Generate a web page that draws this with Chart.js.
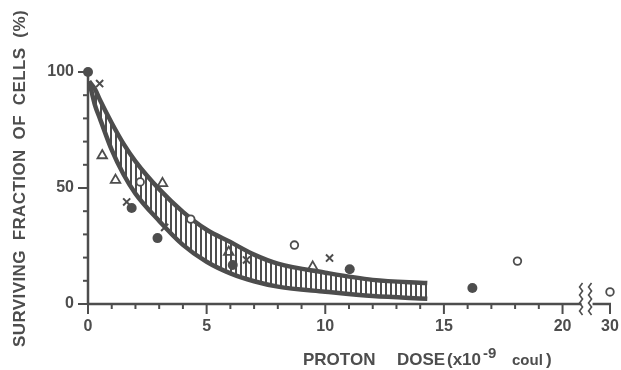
<!DOCTYPE html>
<html><head><meta charset="utf-8">
<script src="https://cdn.jsdelivr.net/npm/chart.js@4/dist/chart.umd.min.js"></script>
<style>html,body{margin:0;padding:0;background:#fff}#wrap{width:621px;height:370px;position:relative}</style>
</head><body><div id="wrap"><canvas id="c"></canvas></div>
<script>
// ---- data ----
const filledCircles = [[0,100],[1.84,41.4],[2.93,28.4],[6.1,16.8],[11.03,15],[16.2,6.9]];
const openCircles   = [[2.2,52.6],[4.33,36.6],[8.7,25.4],[18.1,18.5],[30,5.2]];
const triangles     = [[0.6,64],[1.16,53.4],[3.14,52],[5.93,22.4],[9.47,16]];
const crosses       = [[0.49,95],[1.63,44],[3.23,33],[6.68,19],[10.18,19.8]];
const bandX     = [0.05, 0.3, 0.5, 1, 1.5, 2, 3, 4, 5, 6, 7, 8, 10, 12, 14.3];
const bandUpper = [96, 92.5, 88, 78, 69, 61.5, 49.5, 39.7, 32, 26.7, 21.3, 17.4, 13.5, 10.4, 9];
const bandLower = [96, 85.5, 80, 66.4, 55.8, 47.6, 35.8, 25.5, 18.2, 13.2, 9.8, 7.5, 5.3, 3.4, 2.3];
const xTickValues = [0, 5, 10, 15, 20, 30];
const yTickValues = [0, 50, 100];
const yTitleWords = ['SURVIVING', 'FRACTION', 'OF', 'CELLS', '(%)'];
const xTitleParts = ['PROTON', 'DOSE', '(x10', '-9', 'coul', ')'];

// broken x axis: values beyond the break (30) are drawn just after 20
const BREAK_LOW = 21, BREAK_VALUE = 30, BREAK_POS = 22;
function bx(v) { return v <= BREAK_LOW ? v : BREAK_POS + (v - BREAK_VALUE) * 0.1; }

const INK = '#4d4d4d';
const FONT = '"Liberation Sans", Arial, sans-serif';

function pts(arr) { return arr.map(p => ({x: bx(p[0]), y: p[1]})); }

// hatch pattern
const pc = document.createElement('canvas');
pc.width = 5; pc.height = 8;
const pctx = pc.getContext('2d');
pctx.fillStyle = INK; pctx.fillRect(0, 0, 2, 8);
const hatch = pctx.createPattern(pc, 'repeat');

const axesPlugin = {
  id: 'axesPlugin',
  beforeDatasetsDraw(chart) {
    const {ctx, scales: {x, y}} = chart;
    const x0 = x.getPixelForValue(0), y0 = y.getPixelForValue(0);
    ctx.save();
    ctx.strokeStyle = INK; ctx.lineCap = 'butt';
    // y axis
    ctx.lineWidth = 2.5;
    ctx.beginPath(); ctx.moveTo(x0, y0); ctx.lineTo(x0, y.getPixelForValue(100) - 1); ctx.stroke();
    for (let v = 0; v <= 100; v += 10) {
      const py = y.getPixelForValue(v);
      const len = v % 50 === 0 ? 10 : 5;
      ctx.lineWidth = 2;
      ctx.beginPath(); ctx.moveTo(x0 - len, py); ctx.lineTo(x0, py); ctx.stroke();
    }
    // x axis with break
    const gapL = x.getPixelForValue(20) + 19, gapR = gapL + 11;
    const xEnd = x.getPixelForValue(bx(30));
    ctx.lineWidth = 2.5;
    ctx.beginPath(); ctx.moveTo(x0, y0); ctx.lineTo(gapL, y0);
    ctx.moveTo(gapR, y0); ctx.lineTo(xEnd + 1, y0); ctx.stroke();
    ctx.lineWidth = 2;
    for (let v = 0; v <= 20; v++) {
      const px = x.getPixelForValue(v);
      const len = v % 5 === 0 ? 10 : 5;
      ctx.beginPath(); ctx.moveTo(px, y0); ctx.lineTo(px, y0 + len); ctx.stroke();
    }
    ctx.beginPath(); ctx.moveTo(xEnd, y0); ctx.lineTo(xEnd, y0 + 10); ctx.stroke();
    // zigzags
    ctx.lineWidth = 1.6;
    [gapL + 1, gapL + 10].forEach(zx => {
      ctx.beginPath();
      let yy = y0 - 21, k = 0;
      ctx.moveTo(zx, yy);
      while (yy < y0 + 11) { yy += 4; ctx.lineTo(zx + (k % 2 === 0 ? -3 : 0), yy); k++; }
      ctx.stroke();
    });
    ctx.restore();
  },
  afterDraw(chart) {
    const {ctx} = chart;
    ctx.save();
    ctx.fillStyle = INK;
    // y title, rotated, words spread
    ctx.translate(25, 347);
    ctx.rotate(-Math.PI / 2);
    ctx.font = 'bold 17px ' + FONT;
    ctx.letterSpacing = '0.4px';
    ctx.textBaseline = 'alphabetic';
    let total = 0;
    const widths = yTitleWords.map(w => ctx.measureText(w).width);
    widths.forEach(w => total += w);
    const gap = (337 - total) / (yTitleWords.length - 1);
    let cx = 0;
    yTitleWords.forEach((w, i) => { ctx.fillText(w, cx, 0); cx += widths[i] + gap; });
    ctx.restore();

    // x title
    ctx.save();
    ctx.fillStyle = INK;
    ctx.textBaseline = 'alphabetic';
    const base = 365;
    ctx.font = 'bold 17px ' + FONT;
    ctx.fillText(xTitleParts[0], 303, base);
    ctx.fillText(xTitleParts[1], 397, base);
    ctx.fillText(xTitleParts[2], 447, base);
    ctx.font = 'bold 15px ' + FONT;
    ctx.fillText(xTitleParts[3], 483, base - 7);
    ctx.font = 'bold 15px ' + FONT;
    ctx.fillText(xTitleParts[4], 512, base);
    ctx.font = 'bold 17px ' + FONT;
    ctx.fillText(xTitleParts[5], 546, base);
    ctx.restore();
  }
};

const pointCommon = {showLine: false, clip: false, borderColor: INK};

new Chart(document.getElementById('c'), {
  type: 'scatter',
  data: {
    datasets: [
      {...pointCommon, label: 'filled', data: pts(filledCircles), pointStyle: 'circle', pointRadius: 5, backgroundColor: INK, pointBorderWidth: 0},
      {...pointCommon, label: 'open', data: pts(openCircles), pointStyle: 'circle', pointRadius: 3.8, backgroundColor: '#fff', pointBorderWidth: 1.8},
      {...pointCommon, label: 'triangle', data: pts(triangles), pointStyle: 'triangle', pointRadius: 5.5, backgroundColor: 'rgba(255,255,255,0)', pointBorderWidth: 1.8},
      {...pointCommon, label: 'cross', data: pts(crosses), pointStyle: 'crossRot', pointRadius: 5, backgroundColor: INK, pointBorderWidth: 2},
      {type: 'line', label: 'upper', data: bandX.map((x, i) => ({x, y: bandUpper[i]})), borderColor: INK, borderWidth: 4.5,
        pointRadius: 0, cubicInterpolationMode: 'monotone', fill: {target: '+1', above: hatch, below: hatch}, backgroundColor: hatch, clip: false},
      {type: 'line', label: 'lower', data: bandX.map((x, i) => ({x, y: bandLower[i]})), borderColor: INK, borderWidth: 4.5,
        pointRadius: 0, cubicInterpolationMode: 'monotone', fill: false, clip: false}
    ]
  },
  options: {
    responsive: true, maintainAspectRatio: false, animation: false,
    layout: {padding: {left: 0, right: 11, top: 72, bottom: 0}},
    plugins: {legend: {display: false}, tooltip: {enabled: false}},
    scales: {
      x: {
        type: 'linear', min: 0, max: BREAK_POS,
        afterFit(s) { s.height = 66; s.paddingLeft = 0; s.paddingRight = 0; },
        afterBuildTicks(s) { s.ticks = xTickValues.map(v => ({value: bx(v)})); },
        grid: {display: false, drawTicks: false}, border: {display: false},
        ticks: {autoSkip: false, maxRotation: 0, padding: 13, color: INK, font: {family: FONT, size: 16, weight: 'bold'},
          callback: (v, i) => String(xTickValues[i])}
      },
      y: {
        type: 'linear', min: 0, max: 100,
        afterFit(s) { s.width = 88; s.paddingTop = 0; s.paddingBottom = 0; },
        afterBuildTicks(s) { s.ticks = yTickValues.map(v => ({value: v})); },
        grid: {display: false, drawTicks: false}, border: {display: false},
        ticks: {padding: 14, color: INK, font: {family: FONT, size: 16, weight: 'bold'},
          callback: v => String(v)}
      }
    }
  },
  plugins: [axesPlugin]
});
</script>
</body></html>
